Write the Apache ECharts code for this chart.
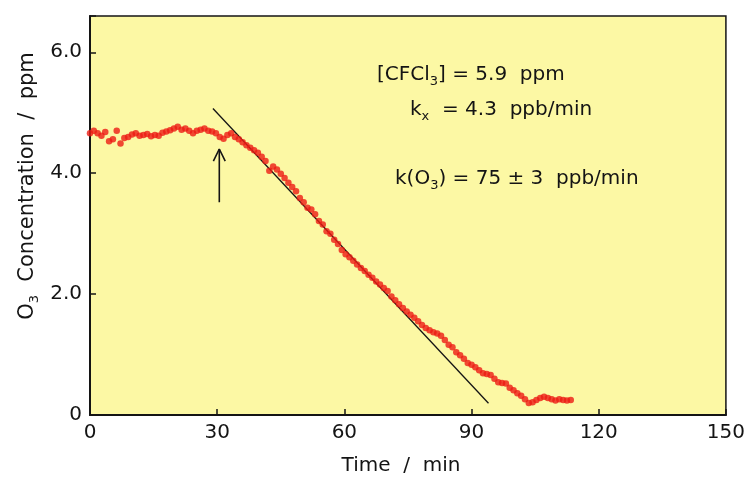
<!DOCTYPE html>
<html>
<head>
<meta charset="utf-8">
<script src="https://cdn.jsdelivr.net/npm/echarts@6/dist/echarts.min.js"></script>
<style>
  html, body { margin: 0; padding: 0; background: #ffffff; }
  #chart { width: 748px; height: 477px; }
</style>
</head>
<body>
<div id="chart"></div>
<script>
// O3 decay in the presence of CFCl3: measured ozone concentration vs. time
const timeMin = [
  0.0, 0.9, 1.8, 2.7, 3.6, 4.5, 5.4, 6.3, 7.2, 8.1, 9.0, 9.9, 10.8, 11.7, 12.6, 13.5,
  14.4, 15.3, 16.2, 17.1, 18.0, 18.9, 19.8, 20.7, 21.6, 22.5, 23.4, 24.3, 25.2, 26.1,
  27.0, 27.9, 28.8, 29.7, 30.6, 31.5, 32.4, 33.3, 34.2, 35.1, 36.0, 36.9, 37.8, 38.7,
  39.6, 40.5, 41.4, 42.3, 43.2, 44.1, 45.0, 45.9, 46.8, 47.7, 48.6, 49.5, 50.4, 51.3,
  52.2, 53.1, 54.0, 54.9, 55.8, 56.7, 57.6, 58.5, 59.4, 60.3, 61.2, 62.1, 63.0, 63.9,
  64.8, 65.7, 66.6, 67.5, 68.4, 69.3, 70.2, 71.1, 72.0, 72.9, 73.8, 74.7, 75.6, 76.5,
  77.4, 78.3, 79.2, 80.1, 81.0, 81.9, 82.8, 83.7, 84.6, 85.5, 86.4, 87.3, 88.2, 89.1,
  90.0, 90.9, 91.8, 92.7, 93.6, 94.5, 95.4, 96.3, 97.2, 98.1, 99.0, 99.9, 100.8, 101.7,
  102.6, 103.5, 104.4, 105.3, 106.2, 107.1, 108.0, 108.9, 109.8, 110.7, 111.6, 112.5, 113.4
];
const ozonePpm = [
  4.66, 4.70, 4.66, 4.62, 4.68, 4.53, 4.56, 4.70, 4.49, 4.58, 4.60, 4.64, 4.66, 4.62, 4.63, 4.65,
  4.61, 4.63, 4.62, 4.67, 4.69, 4.71, 4.74, 4.77, 4.72, 4.74, 4.70, 4.66, 4.70, 4.72,
  4.74, 4.70, 4.69, 4.66, 4.60, 4.57, 4.63, 4.66, 4.60, 4.56, 4.51, 4.46, 4.42, 4.38,
  4.34, 4.27, 4.20, 4.04, 4.11, 4.06, 3.99, 3.92, 3.84, 3.77, 3.70, 3.59, 3.52, 3.43,
  3.40, 3.32, 3.21, 3.15, 3.04, 3.00, 2.90, 2.83, 2.73, 2.66, 2.61, 2.55, 2.49, 2.43,
  2.38, 2.32, 2.27, 2.21, 2.16, 2.10, 2.05, 1.96, 1.90, 1.83, 1.77, 1.71, 1.66, 1.61,
  1.55, 1.49, 1.44, 1.40, 1.37, 1.35, 1.31, 1.24, 1.16, 1.12, 1.04, 0.99, 0.93, 0.86,
  0.83, 0.79, 0.74, 0.69, 0.68, 0.66, 0.60, 0.54, 0.53, 0.52, 0.45, 0.41, 0.36, 0.32,
  0.26, 0.20, 0.21, 0.25, 0.28, 0.30, 0.28, 0.26, 0.24, 0.26, 0.25, 0.24, 0.25
];
const xTickValues = [0, 30, 60, 90, 120, 150];
const yTickValues = [0, 2, 4, 6];

// Fitted initial decay rate and its range
const rateO3 = 75;          // ppb/min
const fitStartMin = 29;
const fitEndMin = 94;
const fitStartPpm = 5.07;

// Arrow marking the start of irradiation
const lampOnMin = 30.5;

const FONT = '"DejaVu Sans", sans-serif';
const INK = '#141414';

const points = timeMin.map((t, i) => [t, ozonePpm[i]]);
const fitLine = [
  [fitStartMin, fitStartPpm],
  [fitEndMin, fitStartPpm - rateO3 / 1000 * (fitEndMin - fitStartMin)]
];
const arrowShaft = [[lampOnMin, 3.52], [lampOnMin, 4.40]];
const arrowHead = [[lampOnMin - 1.4, 4.20], [lampOnMin, 4.40], [lampOnMin + 1.4, 4.20]];

const chart = echarts.init(document.getElementById('chart'), null, { renderer: 'canvas' });

const sub = { fontSize: 13, lineHeight: 13, verticalAlign: 'bottom', fontFamily: FONT, fill: INK };
const main = { fontSize: 20, lineHeight: 26, fontFamily: FONT, fill: INK };

chart.setOption({
  animation: false,
  backgroundColor: '#ffffff',
  grid: {
    left: 90, right: 22, top: 16, bottom: 62,
    show: true,
    backgroundColor: '#fcf8a4',
    borderColor: INK,
    borderWidth: 1.5
  },
  xAxis: {
    type: 'value',
    min: xTickValues[0],
    max: xTickValues[xTickValues.length - 1],
    interval: xTickValues[1] - xTickValues[0],
    splitLine: { show: false },
    axisLine: { lineStyle: { color: INK, width: 2 } },
    axisTick: { inside: true, length: 6, lineStyle: { color: INK, width: 1.5 } },
    axisLabel: { color: INK, fontSize: 20, fontFamily: FONT, margin: 8 }
  },
  yAxis: {
    type: 'value',
    min: yTickValues[0],
    max: 6.6,
    interval: yTickValues[1] - yTickValues[0],
    splitLine: { show: false },
    axisLine: { lineStyle: { color: INK, width: 2 } },
    axisTick: { inside: true, length: 6, lineStyle: { color: INK, width: 1.5 } },
    axisLabel: {
      color: INK, fontSize: 20, fontFamily: FONT, margin: 8,
      formatter: v => yTickValues.includes(v) ? (v === 0 ? '0' : v.toFixed(1)) : ''
    }
  },
  series: [
    {
      type: 'line',
      data: fitLine,
      symbol: 'none',
      lineStyle: { color: INK, width: 1.3 },
      silent: true,
      z: 3
    },
    {
      type: 'line',
      data: arrowShaft,
      symbol: 'none',
      lineStyle: { color: INK, width: 1.6 },
      silent: true,
      z: 3
    },
    {
      type: 'line',
      data: arrowHead,
      symbol: 'none',
      lineStyle: { color: INK, width: 1.6 },
      silent: true,
      z: 3
    },
    {
      type: 'scatter',
      data: points,
      symbol: 'circle',
      symbolSize: 6.5,
      itemStyle: { color: '#ec1b14' },
      z: 4
    }
  ],
  graphic: [
    {
      type: 'text', left: 377, top: 65,
      style: {
        text: '{m|[CFCl}{s|3}{m|] = 5.9  ppm}',
        rich: { m: main, s: sub }
      }
    },
    {
      type: 'text', left: 410, top: 100,
      style: {
        text: '{m|k}{s|x}{m|  = 4.3  ppb/min}',
        rich: { m: main, s: sub }
      }
    },
    {
      type: 'text', left: 395, top: 169,
      style: {
        text: '{m|k(O}{s|3}{m|) = 75 ± 3  ppb/min}',
        rich: { m: main, s: sub }
      }
    },
    {
      type: 'text', x: 28, y: 186, rotation: Math.PI / 2,
      style: {
        text: '{m|O}{s|3}{m|  Concentration  /  ppm}',
        align: 'center', verticalAlign: 'middle',
        rich: { m: Object.assign({}, main, { fontSize: 21 }), s: sub }
      }
    },
    {
      type: 'text', x: 401, y: 466,
      style: {
        text: 'Time  /  min',
        align: 'center', verticalAlign: 'middle',
        fontSize: 20, fontFamily: FONT, fill: INK
      }
    }
  ]
});
</script>
</body>
</html>
